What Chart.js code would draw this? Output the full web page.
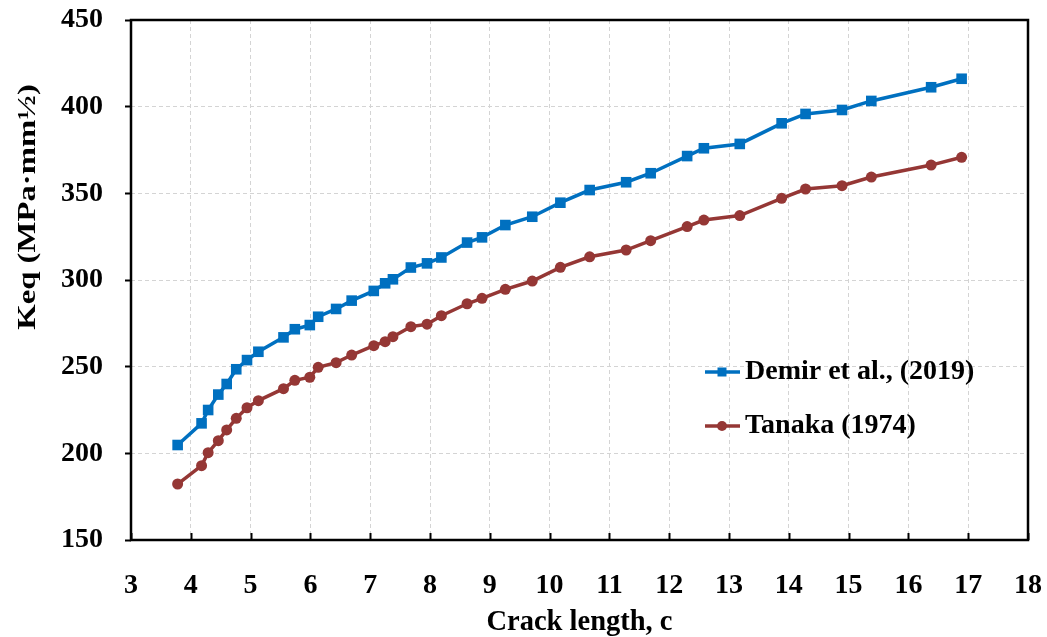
<!DOCTYPE html>
<html>
<head>
<meta charset="utf-8">
<title>Keq vs crack length</title>
<script src="https://cdn.jsdelivr.net/npm/chart.js@4.4.1/dist/chart.umd.min.js"></script>
<style>
  html, body { margin: 0; padding: 0; background: #fff; }
  canvas { display: block; }
</style>
</head>
<body>
<canvas id="keqChart" width="1047" height="637"></canvas>
<script>
// valores
const crackLength = [3.78, 4.18, 4.29, 4.46, 4.60, 4.76, 4.94, 5.13, 5.55, 5.74, 5.99, 6.13, 6.43, 6.69,
  7.06, 7.25, 7.38, 7.68, 7.95, 8.19, 8.62, 8.87, 9.26, 9.71, 10.18, 10.67, 11.28, 11.69, 12.30,
  12.58, 13.18, 13.88, 14.28, 14.89, 15.38, 16.38, 16.89];
const demirKeq = [204.8, 217.3, 225.0, 233.9, 240.0, 248.5, 253.8, 258.6, 266.9, 271.6, 274.0, 278.8,
  283.3, 288.1, 293.7, 298.1, 300.4, 307.2, 309.6, 313.0, 321.6, 324.6, 331.7, 336.5, 344.6, 351.9,
  356.4, 361.6, 371.5, 376.0, 378.5, 390.4, 395.8, 398.1, 403.3, 411.2, 416.1];
const tanakaKeq = [182.3, 192.9, 200.4, 207.3, 213.5, 220.2, 226.3, 230.4, 237.3, 242.1, 243.9, 249.6,
  252.3, 256.7, 262.1, 264.4, 267.3, 273.1, 274.5, 279.4, 286.3, 289.4, 294.6, 299.4, 307.3, 313.4,
  317.3, 322.7, 330.8, 334.6, 337.2, 347.1, 352.5, 354.4, 359.4, 366.3, 370.8];
const seriesNames = ['Demir et al., (2019)', 'Tanaka (1974)'];
const xTicks = [3, 4, 5, 6, 7, 8, 9, 10, 11, 12, 13, 14, 15, 16, 17, 18];
const yTicks = [150, 200, 250, 300, 350, 400, 450];

const BLUE = '#0070C0';
const RED = '#953735';
const FONT = '"Liberation Serif", "Times New Roman", serif';

// moldura, marcas do eixo x para dentro, título do eixo y e legenda
const framePlugin = {
  id: 'frame',
  afterDraw(chart) {
    const { ctx, chartArea: a, scales } = chart;
    ctx.save();
    ctx.strokeStyle = '#000';
    ctx.lineWidth = 2;
    xTicks.forEach(v => {
      const px = Math.round(scales.x.getPixelForValue(v)) + 0.5;
      ctx.beginPath();
      ctx.moveTo(px, a.bottom);
      ctx.lineTo(px, a.bottom - 7);
      ctx.stroke();
    });
    ctx.lineWidth = 2.5;
    ctx.strokeRect(a.left, a.top, a.right - a.left, a.bottom - a.top);

    // título do eixo y
    ctx.fillStyle = '#000';
    ctx.font = 'bold 28px ' + FONT;
    ctx.textAlign = 'center';
    ctx.textBaseline = 'middle';
    ctx.save();
    ctx.translate(28, 207);
    ctx.rotate(-Math.PI / 2);
    ctx.scale(1.17, 0.92);
    ctx.fillText('Keq (MPa·mm½)', 0, 0);
    ctx.restore();

    // legenda
    const items = [
      { y: 372, color: BLUE, style: 'rect' },
      { y: 426, color: RED, style: 'circle' }
    ];
    ctx.textAlign = 'left';
    items.forEach((it, i) => {
      ctx.strokeStyle = it.color;
      ctx.fillStyle = it.color;
      ctx.lineWidth = 3.5;
      ctx.beginPath();
      ctx.moveTo(705, it.y);
      ctx.lineTo(740, it.y);
      ctx.stroke();
      if (it.style === 'rect') {
        ctx.fillRect(722 - 4.5, it.y - 4.5, 9, 9);
      } else {
        ctx.beginPath();
        ctx.arc(722, it.y, 5, 0, Math.PI * 2);
        ctx.fill();
      }
      ctx.fillStyle = '#000';
      ctx.fillText(seriesNames[i], 745, it.y);
    });
    ctx.restore();
  }
};

const gridOpts = {
  color: '#d4d4d4',
  lineWidth: 1,
  tickColor: '#000',
  tickWidth: 2,
  tickBorderDash: []
};

new Chart(document.getElementById('keqChart'), {
  type: 'line',
  data: {
    datasets: [
      {
        label: seriesNames[0],
        data: crackLength.map((c, i) => ({ x: c, y: demirKeq[i] })),
        borderColor: BLUE,
        backgroundColor: BLUE,
        borderWidth: 3.5,
        pointStyle: 'rect',
        pointRadius: 7.5,
        pointBorderWidth: 0,
        tension: 0
      },
      {
        label: seriesNames[1],
        data: crackLength.map((c, i) => ({ x: c, y: tanakaKeq[i] })),
        borderColor: RED,
        backgroundColor: RED,
        borderWidth: 3.5,
        pointStyle: 'circle',
        pointRadius: 5.5,
        pointBorderWidth: 0,
        tension: 0
      }
    ]
  },
  options: {
    responsive: false,
    animation: false,
    devicePixelRatio: 1,
    layout: { padding: { left: 0, top: 20, right: 19, bottom: 0 } },
    plugins: {
      legend: { display: false },
      tooltip: { enabled: false }
    },
    scales: {
      x: {
        type: 'linear',
        min: 3,
        max: 18,
        afterBuildTicks: s => { s.ticks = xTicks.map(v => ({ value: v })); },
        afterFit: s => { s.height = 97; s.paddingLeft = 0; s.paddingRight = 0; },
        grid: { ...gridOpts, drawTicks: false },
        border: { display: false, dash: [4, 3] },
        ticks: {
          color: '#000',
          font: { family: FONT, size: 28, weight: 'bold' },
          padding: 29,
          maxRotation: 0,
          autoSkip: false
        },
        title: {
          display: true,
          text: 'Crack length, c',
          color: '#000',
          font: { family: FONT, size: 28.5, weight: 'bold' },
          padding: { top: 0, bottom: -3 }
        }
      },
      y: {
        type: 'linear',
        min: 150,
        max: 450,
        afterBuildTicks: s => { s.ticks = yTicks.map(v => ({ value: v })); },
        afterFit: s => { s.width = 131; s.paddingTop = 0; s.paddingBottom = 0; },
        grid: { ...gridOpts, drawTicks: true, tickLength: 6 },
        border: { display: false, dash: [4, 3] },
        ticks: {
          color: '#000',
          font: { family: FONT, size: 28, weight: 'bold' },
          padding: 22,
          autoSkip: false
        }
      }
    }
  },
  plugins: [framePlugin]
});
</script>
</body>
</html>
